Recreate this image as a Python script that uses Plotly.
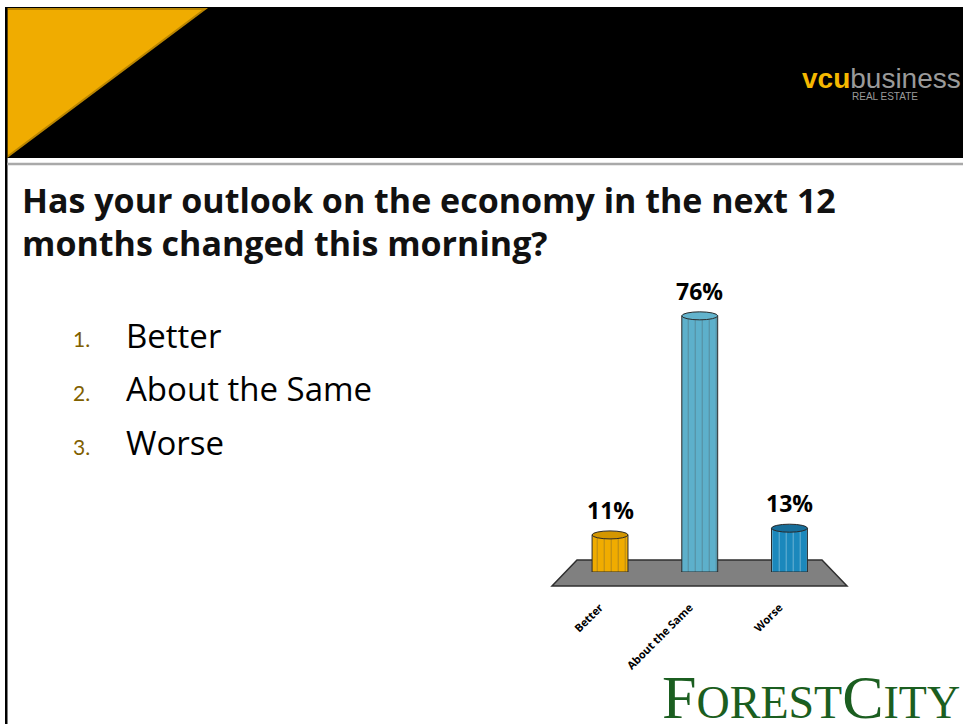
import plotly.graph_objects as go

# ---------------- data ----------------
categories = ["Better", "About the Same", "Worse"]
values = [11, 76, 13]
bar_colors = ["#F0AC00", "#5DB0CB", "#1B88BC"]
top_colors = ["#D39600", "#62B3CC", "#176E9A"]
question = ["Has your outlook on the economy in the next 12", "months changed this morning?"]
options = ["Better", "About the Same", "Worse"]

W, H = 963, 724


def px(x):
    return x / W


def py(y):
    return 1 - y / H


fig = go.Figure()

fig.add_trace(go.Bar(
    x=list(range(len(categories))),
    y=values,
    width=0.4,
    marker=dict(
        color=bar_colors,
        line=dict(color="#2a2a2a", width=1),
        pattern=dict(shape="|", fgcolor="rgba(255,255,255,0.25)", size=7, solidity=0.1),
    ),
    hoverinfo="skip",
    showlegend=False,
))

shapes = []
# slide chrome
shapes.append(dict(type="rect", xref="paper", yref="paper", x0=px(5), x1=px(963), y0=py(7), y1=py(158),
                   fillcolor="black", line=dict(width=0), layer="below"))
shapes.append(dict(type="path", xref="paper", yref="paper",
                   path=f"M {px(7)} {py(9)} L {px(205)} {py(9)} L {px(7)} {py(157)} Z",
                   fillcolor="#F0AC00", line=dict(color="#B98500", width=2), layer="below"))
shapes.append(dict(type="rect", xref="paper", yref="paper", x0=px(5), x1=px(7.5), y0=py(724), y1=py(7),
                   fillcolor="black", line=dict(width=0), layer="below"))
shapes.append(dict(type="line", xref="paper", yref="paper", x0=px(7), x1=px(963), y0=py(164), y1=py(164),
                   line=dict(color="#a9a9a9", width=2.5), layer="below"))
# chart floor
shapes.append(dict(type="path", xref="paper", yref="paper",
                   path=(f"M {px(577)} {py(560)} L {px(822)} {py(560)} L {px(847)} {py(586)} "
                         f"L {px(552)} {py(586)} Z"),
                   fillcolor="#808080", line=dict(color="#2f2f2f", width=1.5), layer="below"))
# cylinder ends derived from data
for i, v in enumerate(values):
    shapes.append(dict(type="circle", xref="x", yref="y", ysizemode="pixel", yanchor=0,
                       x0=i - 0.2, x1=i + 0.2, y0=-5, y1=5,
                       fillcolor=bar_colors[i], line=dict(color="#2a2a2a", width=1), layer="below"))
    shapes.append(dict(type="circle", xref="x", yref="y", ysizemode="pixel", yanchor=v,
                       x0=i - 0.2, x1=i + 0.2, y0=-4, y1=4,
                       fillcolor=top_colors[i], line=dict(color="#2a2a2a", width=1), layer="above"))

annotations = []
for i, v in enumerate(values):
    annotations.append(dict(x=i, y=v, xref="x", yref="y", text=f"<b>{v}%</b>", showarrow=False,
                            yshift=25, font=dict(family="Open Sans", size=23, color="black")))

# title
for k, line in enumerate(question):
    annotations.append(dict(x=px(20), y=py(200 + 43 * k), xref="paper", yref="paper", xanchor="left",
                            yanchor="middle", text=f"<b>{line}</b>", showarrow=False,
                            font=dict(family="Open Sans", size=34, color="#111111")))
# list
for k, opt in enumerate(options):
    yy = 335 + 53.5 * k
    annotations.append(dict(x=px(71), y=py(yy + 4), xref="paper", yref="paper", xanchor="left",
                            yanchor="middle", text=f"{k + 1}.", showarrow=False,
                            font=dict(family="Lato", size=21, color="#7F6000")))
    annotations.append(dict(x=px(124), y=py(yy), xref="paper", yref="paper", xanchor="left",
                            yanchor="middle", text=opt, showarrow=False,
                            font=dict(family="Open Sans", size=33, color="black")))

# vcu logo
annotations.append(dict(x=px(800), y=py(78), xref="paper", yref="paper", xanchor="left", yanchor="middle",
                        text="<b>vcu</b><span style='color:#9a9a9a'>business</span>", showarrow=False,
                        font=dict(family="Liberation Sans", size=28, color="#F5B800")))
annotations.append(dict(x=px(850), y=py(97), xref="paper", yref="paper", xanchor="left", yanchor="middle",
                        text="REAL ESTATE", showarrow=False,
                        font=dict(family="Liberation Sans", size=10, color="#9a9a9a")))
# Forest City logo
annotations.append(dict(x=px(660), y=py(697), xref="paper", yref="paper", xanchor="left", yanchor="middle",
                        text=("F<span style='font-size:46px'>OREST</span>C"
                              "<span style='font-size:46px'>ITY</span>"),
                        showarrow=False,
                        font=dict(family="Liberation Serif", size=62, color="#1B5E20")))

fig.update_layout(
    width=W, height=H,
    margin=dict(l=0, r=0, t=0, b=0),
    paper_bgcolor="white",
    plot_bgcolor="rgba(0,0,0,0)",
    shapes=shapes,
    annotations=annotations,
    bargap=0.5,
    xaxis=dict(domain=[px(551.7), px(847.8)], range=[-0.65, 2.65],
               tickvals=list(range(len(categories))), ticktext=categories,
               tickangle=-45, ticklabelstandoff=26, ticklabelshift=-10,
               tickfont=dict(family="Open Sans", size=11, color="black", weight="bold"),
               showgrid=False, zeroline=False, showline=False, ticks=""),
    yaxis=dict(domain=[py(572), py(285.5)], range=[0, 85],
               visible=False, showgrid=False, zeroline=False),
)

fig.write_html("out.html", config={"displayModeBar": False},
               post_script="document.body.style.margin='0';")
